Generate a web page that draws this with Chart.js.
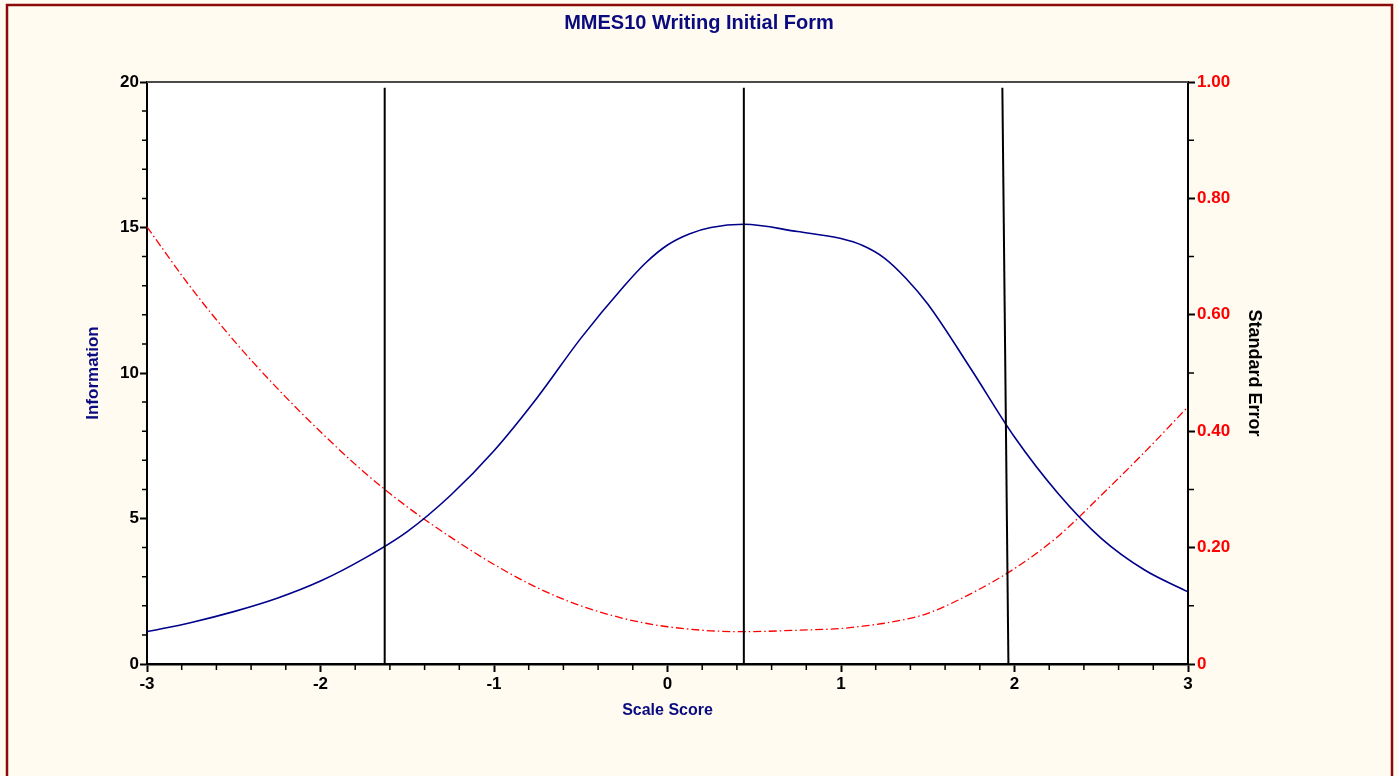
<!DOCTYPE html>
<html>
<head>
<meta charset="utf-8">
<title>MMES10 Writing Initial Form</title>
<script src="https://cdn.jsdelivr.net/npm/chart.js@4.4.0/dist/chart.umd.min.js"></script>
<style>
  html, body { margin: 0; padding: 0; background: #fffbf0; }
  #wrap { width: 1398px; height: 776px; }
</style>
</head>
<body>
<div id="wrap"><canvas id="infoChart" width="1398" height="776"></canvas></div>
<script>
// scale score points (closer together round the bends)
const scores = [-3, -2.75, -2.5, -2.25, -2, -1.75, -1.5, -1.25, -1, -0.75, -0.5, -0.25, -0.125,
  0, 0.125, 0.25, 0.44, 0.75, 1, 1.125, 1.25, 1.375, 1.5, 1.75, 2, 2.25, 2.5, 2.75, 3];

// test information (left axis)
const information = [1.11, 1.42, 1.80, 2.26, 2.85, 3.62, 4.55, 5.80, 7.33, 9.16, 11.19, 12.99, 13.79,
  14.40, 14.78, 15.00, 15.11, 14.86, 14.62, 14.38, 13.95, 13.25, 12.37, 10.13, 7.80, 5.87, 4.32, 3.23, 2.48];

// standard error (right axis)
const standardError = [0.751, 0.648, 0.556, 0.474, 0.399, 0.330, 0.270, 0.218, 0.171, 0.131, 0.100, 0.078, 0.070,
  0.064, 0.060, 0.057, 0.0555, 0.058, 0.061, 0.065, 0.070, 0.077, 0.087, 0.121, 0.164, 0.219, 0.290, 0.364, 0.442];

// cut score lines (x at the top and at the bottom, the last one leans a little)
const cutTopX = [-1.63, 0.44, 1.93];
const cutBottomX = [-1.63, 0.44, 1.965];
const cutTopY = 19.8;

const navy = '#0b0b80';

// build the datasets
let cutSets = cutTopX.map((x, i) => ({
  data: [{x: x, y: cutTopY}, {x: cutBottomX[i], y: 0}],
  borderColor: '#000',
  borderWidth: 2,
  pointRadius: 0,
  tension: 0,
  yAxisID: 'y'
}));

let infoData = scores.map((s, i) => ({x: s, y: information[i]}));
let seData = scores.map((s, i) => ({x: s, y: standardError[i]}));

// background, outer frame and top edge of the plot
const frame = {
  id: 'frame',
  beforeDraw(chart) {
    const {ctx, chartArea: a} = chart;
    ctx.save();
    ctx.fillStyle = '#fffbf0';
    ctx.fillRect(0, 0, chart.width, chart.height);
    ctx.fillStyle = '#ffffff';
    ctx.fillRect(a.left, a.top, a.right - a.left, a.bottom - a.top);
    ctx.strokeStyle = '#8b0a0a';
    ctx.lineWidth = 2.5;
    ctx.strokeRect(7, 5, 1385, 800);
    ctx.restore();
  },
  afterDraw(chart) {
    const {ctx, chartArea: a} = chart;
    ctx.save();
    ctx.strokeStyle = '#4a4a4a';
    ctx.lineWidth = 2;
    ctx.beginPath();
    ctx.moveTo(a.left, a.top);
    ctx.lineTo(a.right, a.top);
    ctx.stroke();
    ctx.restore();
  }
};

// small ticks between the labelled ones
const minorTicks = {
  id: 'minorTicks',
  afterDraw(chart) {
    const {ctx, chartArea: a, scales} = chart;
    ctx.save();
    ctx.strokeStyle = '#000';
    ctx.lineWidth = 1.5;
    ctx.beginPath();
    for (let i = 0; i <= 30; i++) {
      if (i % 5 === 0) continue;
      let px = scales.x.getPixelForValue(-3 + i * 0.2);
      ctx.moveTo(px, a.bottom);
      ctx.lineTo(px, a.bottom + 6);
    }
    for (let i = 0; i <= 20; i++) {
      if (i % 5 === 0) continue;
      let py = scales.y.getPixelForValue(i);
      ctx.moveTo(a.left - 5, py);
      ctx.lineTo(a.left + 1, py);
    }
    for (let i = 0; i <= 10; i++) {
      if (i % 2 === 0) continue;
      let py = scales.y2.getPixelForValue(i / 10);
      ctx.moveTo(a.right, py);
      ctx.lineTo(a.right + 6, py);
    }
    ctx.stroke();
    ctx.restore();
  }
};

Chart.defaults.font.family = '"Liberation Sans", Arial, sans-serif';

let ctx = document.getElementById('infoChart').getContext('2d');
new Chart(ctx, {
  type: 'line',
  data: {
    datasets: cutSets.concat([
      {
        label: 'Information',
        data: infoData,
        borderColor: '#00008b',
        borderWidth: 1.6,
        pointRadius: 0,
        cubicInterpolationMode: 'monotone',
        yAxisID: 'y'
      },
      {
        label: 'Standard Error',
        data: seData,
        borderColor: '#ff0000',
        borderWidth: 1.3,
        borderDash: [8, 3, 1.5, 3],
        pointRadius: 0,
        cubicInterpolationMode: 'monotone',
        yAxisID: 'y2'
      }
    ])
  },
  options: {
    responsive: false,
    animation: false,
    devicePixelRatio: 1,
    layout: { padding: 0 },
    plugins: {
      legend: { display: false },
      tooltip: { enabled: false },
      title: {
        display: true,
        text: 'MMES10 Writing Initial Form',
        color: navy,
        font: { size: 20, weight: 'bold' },
        padding: { top: 11, bottom: 47 }
      }
    },
    scales: {
      x: {
        type: 'linear',
        position: 'bottom',
        min: -3,
        max: 3,
        afterFit: s => { s.height = 112; },
        ticks: { stepSize: 1, color: '#000', font: { size: 17, weight: 'bold' }, padding: 2 },
        grid: { drawOnChartArea: false, drawTicks: true, tickLength: 8, tickWidth: 2, tickColor: '#000' },
        border: { color: '#000', width: 2.5 },
        title: {
          display: true,
          text: 'Scale Score',
          color: navy,
          font: { size: 16, weight: 'bold' },
          padding: { top: 0, bottom: 56 }
        }
      },
      y: {
        position: 'left',
        min: 0,
        max: 20,
        afterFit: s => { s.width = 147; },
        ticks: { stepSize: 5, color: '#000', font: { size: 17, weight: 'bold' }, padding: 1 },
        grid: { drawOnChartArea: false, drawTicks: true, tickLength: 7, tickWidth: 2, tickColor: '#000' },
        border: { color: '#000', width: 2 },
        title: {
          display: true,
          text: 'Information',
          color: navy,
          font: { size: 17, weight: 'bold' },
          padding: { top: 83, bottom: 0 }
        }
      },
      y2: {
        position: 'right',
        min: 0,
        max: 1,
        afterFit: s => { s.width = 210; },
        ticks: {
          stepSize: 0.2,
          color: '#ff0000',
          font: { size: 17, weight: 'bold' },
          padding: 2,
          callback: v => v === 0 ? '0' : v.toFixed(2)
        },
        grid: { drawOnChartArea: false, drawTicks: true, tickLength: 7, tickWidth: 2, tickColor: '#000' },
        border: { color: '#000', width: 2 },
        title: {
          display: true,
          text: 'Standard Error',
          color: '#000',
          font: { size: 18, weight: 'bold' },
          padding: { top: 133, bottom: 0 }
        }
      }
    }
  },
  plugins: [frame, minorTicks]
});
</script>
</body>
</html>
